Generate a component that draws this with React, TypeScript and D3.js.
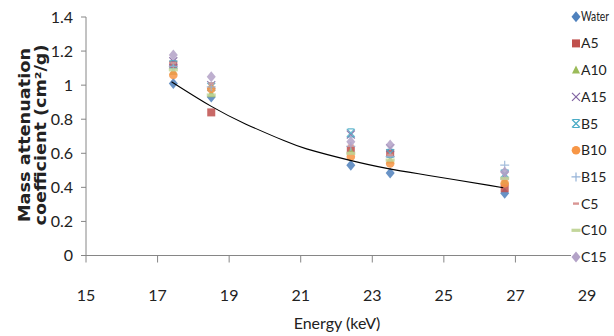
import React from 'react';
import * as d3 from 'd3';

const energies = [17.44, 18.5, 22.4, 23.5, 26.7];
const seriesNames = ['Water', 'A5', 'A10', 'A15', 'B5', 'B10', 'B15', 'C5', 'C10', 'C15'];
const water = [1.01, 0.93, 0.53, 0.484, 0.365];
const a5 = [1.12, 0.84, 0.62, 0.6, 0.395];
const a10 = [1.08, 0.95, 0.61, 0.56, 0.44];
const a15 = [1.14, 1.0, 0.71, 0.63, 0.47];
const b5 = [1.12, 0.99, 0.72, 0.6, 0.48];
const b10 = [1.06, 0.977, 0.58, 0.54, 0.424];
const b15 = [1.11, 0.99, 0.64, 0.58, 0.53];
const c5 = [1.13, 1.01, 0.645, 0.59, 0.45];
const c10 = [1.09, 0.942, 0.6, 0.56, 0.453];
const c15 = [1.177, 1.05, 0.668, 0.649, 0.49];
const seriesValues = [water, a5, a10, a15, b5, b10, b15, c5, c10, c15];

// trend line, points
const trendE = [17.39, 18.56, 19.39, 20.7, 20.98, 22.37, 23.49, 24.33, 26.66];
const trendV = [1.02, 0.864, 0.776, 0.659, 0.635, 0.557, 0.506, 0.479, 0.398];

const xTicks = [15, 17, 19, 21, 23, 25, 27, 29];
const yTicks = [0, 0.2, 0.4, 0.6, 0.8, 1, 1.2, 1.4];

const colors = ['#4F81BD', '#C0504D', '#9BBB59', '#8064A2', '#4BACC6', '#F79646', '#95B3D7', '#D99694', '#C3D69B', '#B3A2C7'];

const tickFont = 'Lato, sans-serif';

function Marker({ kind, color, x, y }: { kind: number; color: string; x: number; y: number }) {
  const s = 4.5;
  switch (kind) {
    case 0:
      return <path d={`M${x},${y - s - 1}L${x + s},${y}L${x},${y + s + 1}L${x - s},${y}Z`} fill={color} />;
    case 1:
      return <rect x={x - 4} y={y - 4} width={8} height={8} fill={color} />;
    case 2:
      return <path d={`M${x},${y - 4.5}L${x + 4},${y + 3.5}L${x - 4},${y + 3.5}Z`} fill={color} />;
    case 3:
      return <path d={`M${x - 4},${y - 4}L${x + 4},${y + 4}M${x + 4},${y - 4}L${x - 4},${y + 4}`} stroke={color} strokeWidth={1.2} />;
    case 4:
      return <path d={`M${x - 4},${y - 4}L${x + 4},${y + 4}M${x + 4},${y - 4}L${x - 4},${y + 4}M${x - 3},${y - 4}L${x + 3},${y - 4}M${x - 3},${y + 4}L${x + 3},${y + 4}`} stroke={color} strokeWidth={1.2} />;
    case 5:
      return <circle cx={x} cy={y} r={4.3} fill={color} />;
    case 6:
      return <path d={`M${x - 4.5},${y}L${x + 4.5},${y}M${x},${y - 4.5}L${x},${y + 4.5}`} stroke={color} strokeWidth={1.2} />;
    case 7:
      return <rect x={x - 3} y={y - 1.2} width={6} height={2.4} fill={color} />;
    case 8:
      return <rect x={x - 4.5} y={y - 1.6} width={9} height={3.2} fill={color} />;
    default:
      return <path d={`M${x},${y - s - 1}L${x + s},${y}L${x},${y + s + 1}L${x - s},${y}Z`} fill={color} />;
  }
}

export default function App() {
  const width = 614;
  const height = 336;
  const x = d3.scaleLinear().domain([15, 29]).range([86, 587]);
  const y = d3.scaleLinear().domain([0, 1.4]).range([255.5, 17]);
  const axisColor = '#868686';

  const line = d3.line<number>()
    .x((_, i) => x(trendE[i]))
    .y(d => y(d))
    .curve(d3.curveBasis);

  return (
    <svg width={width} height={height} style={{ position: 'absolute', left: 0, top: 0, background: '#fff' }}>
      {/* axes */}
      <line x1={x(15)} x2={x(29)} y1={y(0)} y2={y(0)} stroke={axisColor} strokeWidth={1} />
      <line x1={x(15)} x2={x(15)} y1={y(0)} y2={y(1.4)} stroke={axisColor} strokeWidth={1} />
      {yTicks.map(t => (
        <g key={'y' + t}>
          <line x1={x(15) - 5} x2={x(15)} y1={y(t)} y2={y(t)} stroke={axisColor} />
          <text x={73} y={y(t)} dy="0.36em" textAnchor="end" fontFamily={tickFont} fontSize={16} fill="#222">
            {d3.format('~g')(t)}
          </text>
        </g>
      ))}
      {xTicks.map(t => (
        <g key={'x' + t}>
          <line x1={x(t)} x2={x(t)} y1={y(0)} y2={y(0) + 7} stroke={axisColor} />
          <text x={x(t)} y={295} dy="0.36em" textAnchor="middle" fontFamily={tickFont} fontSize={16} fill="#222">
            {t}
          </text>
        </g>
      ))}
      <text x={337} y={323} dy="0.36em" textAnchor="middle" fontFamily={tickFont} fontSize={16} fill="#222">
        Energy (keV)
      </text>
      <g transform="translate(0,135) rotate(-90)">
        <text x={0} y={30} textAnchor="middle" fontFamily='"DejaVu Sans", sans-serif' fontWeight="bold" fontSize={15}
          textLength={174} lengthAdjust="spacingAndGlyphs" fill="#222">
          Mass attenuation
        </text>
        <text x={0} y={46} textAnchor="middle" fontFamily='"DejaVu Sans", sans-serif' fontWeight="bold" fontSize={15}
          textLength={181} lengthAdjust="spacingAndGlyphs" fill="#222">
          coefficient (cm²/g)
        </text>
      </g>

      {/* points */}
      {seriesValues.map((vals, si) => (
        <g key={seriesNames[si]} opacity={0.85}>
          {vals.map((v, i) => (
            <Marker key={i} kind={si} color={colors[si]} x={x(energies[i])} y={y(v)} />
          ))}
        </g>
      ))}

      {/* trend */}
      <path d={line(trendV) || ''} fill="none" stroke="#000" strokeWidth={1.1} />

      {/* legend */}
      <rect x={571} y={4} width={43} height={266} fill="#fff" />
      {seriesNames.map((n, i) => {
        const ly = 16.7 + i * 26.7;
        return (
          <g key={'l' + n}>
            <Marker kind={i} color={colors[i]} x={576} y={ly} />
            <text x={581} y={ly} dy="0.36em" fontFamily={tickFont} fontSize={n === 'Water' ? 12.5 : 14} fill="#222"
              textLength={n === 'Water' ? 28 : undefined} lengthAdjust="spacingAndGlyphs">
              {n}
            </text>
          </g>
        );
      })}
    </svg>
  );
}
